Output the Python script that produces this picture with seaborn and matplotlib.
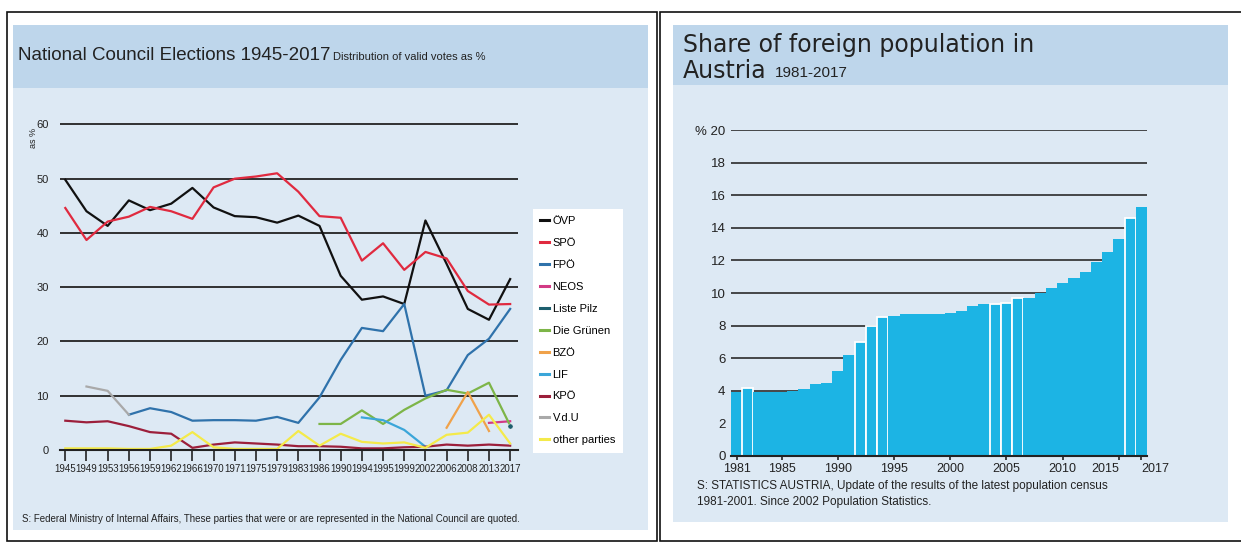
import numpy as np
import pandas as pd
import matplotlib
matplotlib.use('Agg')
import matplotlib.pyplot as plt
from matplotlib.patches import Rectangle
from matplotlib.lines import Line2D
import seaborn as sns

# %%
years = ['1945', '1949', '1953', '1956', '1959', '1962', '1966', '1970', '1971', '1975', '1979',
         '1983', '1986', '1990', '1994', '1995', '1999', '2002', '2006', '2008', '2013', '2017']
nan = np.nan
ovp = [49.8, 44.0, 41.3, 46.0, 44.2, 45.4, 48.3, 44.7, 43.1, 42.9, 41.9,
       43.2, 41.3, 32.1, 27.7, 28.3, 26.9, 42.3, 34.3, 26.0, 24.0, 31.5]
spo = [44.6, 38.7, 42.1, 43.0, 44.8, 44.0, 42.6, 48.4, 50.0, 50.4, 51.0,
       47.6, 43.1, 42.8, 34.9, 38.1, 33.2, 36.5, 35.3, 29.3, 26.8, 26.9]
fpo = [nan, nan, nan, 6.5, 7.7, 7.0, 5.4, 5.5, 5.5, 5.4, 6.1,
       5.0, 9.7, 16.6, 22.5, 21.9, 26.9, 10.0, 11.0, 17.5, 20.5, 26.0]
neos = [nan] * 20 + [5.0, 5.3]
pilz = [nan] * 21 + [4.4]
gruene = [nan] * 12 + [4.8, 4.8, 7.3, 4.8, 7.4, 9.5, 11.1, 10.4, 12.4, 4.5]
bzo = [nan] * 18 + [4.1, 10.7, 3.5, nan]
lif = [nan] * 14 + [6.0, 5.5, 3.7, 0.6, nan, nan, nan, nan]
kpo = [5.4, 5.1, 5.3, 4.4, 3.3, 3.0, 0.4, 1.0, 1.4, 1.2, 1.0,
       0.7, 0.7, 0.6, 0.3, 0.3, 0.5, 0.6, 1.0, 0.8, 1.0, 0.8]
vdu = [nan, 11.7, 10.9, 6.5] + [nan] * 18
other = [0.3, 0.3, 0.3, 0.2, 0.2, 0.8, 3.3, 0.5, 0.2, 0.2, 0.2,
         3.5, 0.8, 3.0, 1.5, 1.2, 1.4, 0.4, 2.8, 3.2, 6.5, 1.2]

parties = ['ÖVP', 'SPÖ', 'FPÖ', 'NEOS', 'Liste Pilz', 'Die Grünen', 'BZÖ', 'LIF', 'KPÖ', 'V.d.U', 'other parties']
series = [ovp, spo, fpo, neos, pilz, gruene, bzo, lif, kpo, vdu, other]
colors = ['#111111', '#e02a3f', '#2f72ab', '#d23a85', '#1d5f6e', '#7db548', '#f0a24a',
          '#3ba6d9', '#9c1f3b', '#a9a9a9', '#f4ea4a']
palette = dict(zip(parties, colors))

pop_years = list(range(1981, 2018))
pop_share = [3.9, 4.2, 3.9, 3.9, 3.9, 4.0, 4.1, 4.4, 4.5, 5.2, 6.2, 7.0, 8.0, 8.5, 8.6, 8.7,
             8.7, 8.7, 8.7, 8.8, 8.9, 9.2, 9.3, 9.3, 9.4, 9.7, 9.7, 10.0, 10.3, 10.6, 10.9,
             11.3, 11.9, 12.5, 13.3, 14.6, 15.3]
pop_ticks = ['1981', '1985', '1990', '1995', '2000', '2005', '2010', '2015', '2017']

# %%
rows = []
for p, vals in zip(parties, series):
    for i, v in enumerate(vals):
        if not np.isnan(v):
            rows.append({'party': p, 'pos': i, 'share': v})
df = pd.DataFrame(rows)
dfp = pd.DataFrame({'year': [str(y) for y in pop_years], 'share': pop_share})

sans = 'Liberation Sans'
W, H = 1241, 542
fig = plt.figure(figsize=(W / 100, H / 100), dpi=100)
fig.patch.set_facecolor('white')

def box(x0, y0, x1, y1, **kw):
    fig.patches.append(Rectangle((x0 / W, 1 - y1 / H), (x1 - x0) / W, (y1 - y0) / H,
                                 transform=fig.transFigure, zorder=-5, **kw))

def txt(x, y, s, **kw):
    fig.text(x / W, 1 - y / H, s, **kw)

bg = '#dde9f4'
band = '#bed6eb'
# left panel
box(7, 12, 657, 541, facecolor='white', edgecolor='#111111', linewidth=1.2)
box(13, 25, 648, 530, facecolor=bg, edgecolor='none')
box(13, 25, 648, 88, facecolor=band, edgecolor='none')
# right panel
box(660, 12, 1245, 541, facecolor='white', edgecolor='#111111', linewidth=1.2)
box(673, 25, 1228, 522, facecolor=bg, edgecolor='none')
box(673, 25, 1228, 85, facecolor=band, edgecolor='none')

# %%
ax = fig.add_axes([60 / W, 92 / H, 458 / W, 331 / H])
ax.set_zorder(2)
ax.set_facecolor('none')
sns.lineplot(data=df, x='pos', y='share', hue='party', palette=palette, hue_order=parties,
             linewidth=1.6, legend=False, ax=ax, sort=True)
sns.scatterplot(data=df[df.party == 'Liste Pilz'], x='pos', y='share', color=palette['Liste Pilz'],
                s=14, legend=False, ax=ax, zorder=5)
for y in range(10, 70, 10):
    ax.axhline(y, color='#222222', linewidth=1.3, zorder=0)
ax.set_xlim(-0.25, 21.37)
ax.set_ylim(0, 61)
ax.set_xticks(range(len(years)))
ax.set_xticklabels(years, family=sans, fontsize=7, color='#222222')
ax.set_yticks(range(0, 70, 10))
ax.set_yticklabels([str(v) for v in range(0, 70, 10)], family=sans, fontsize=8, color='#222222')
ax.tick_params(axis='x', length=8, width=1.2, color='#222222', pad=2, direction='out')
ax.tick_params(axis='y', length=0, pad=8)
ax.set_xlabel('')
ax.set_ylabel('')
for s in ['top', 'right', 'left']:
    ax.spines[s].set_visible(False)
ax.spines['bottom'].set_color('#222222')
ax.spines['bottom'].set_linewidth(1.5)
txt(33, 138, 'as %', family=sans, fontsize=6.5, rotation=90, color='#222222', ha='center', va='center')

handles = [Line2D([0], [0], color=palette[p], linewidth=2.2) for p in parties]
leg = fig.legend(handles, parties, loc='upper left', bbox_to_anchor=(527 / W, 1 - 203 / H),
                 frameon=True, fancybox=False, edgecolor='none', facecolor='white', framealpha=1,
                 handlelength=0.8, handletextpad=0.3, labelspacing=1.07, borderpad=0.7,
                 prop={'family': sans, 'size': 8})
leg.set_zorder(3)

txt(18, 55, 'National Council Elections 1945-2017', family=sans, fontsize=13.5,
    color='#222222', va='center')
txt(333, 57, 'Distribution of valid votes as %', family=sans, fontsize=8, color='#222222', va='center')
txt(22, 519, 'S: Federal Ministry of Internal Affairs, These parties that were or are represented in the National Council are quoted.',
    family=sans, fontsize=7, color='#222222', va='center')

# %%
ax2 = fig.add_axes([731 / W, 86 / H, 416 / W, 326 / H])
ax2.set_zorder(2)
ax2.set_facecolor('none')
for y in range(2, 22, 2):
    ax2.axhline(y, color='#2b2b2b', linewidth=1.2, zorder=0)
sns.barplot(data=dfp, x='year', y='share', color='#1cb4e4', saturation=1, width=1.0,
            linewidth=0, ax=ax2, zorder=2)
for i in [1, 11, 12, 13, 23, 24, 25, 35]:
    ax2.patches[i].set_edgecolor('white')
    ax2.patches[i].set_linewidth(1.3)
ax2.set_xlim(-0.5, 36.5)
ax2.set_ylim(0, 20)
ax2.set_xticks([pop_years.index(int(t)) for t in pop_ticks])
ax2.set_xticklabels(pop_ticks, family=sans, fontsize=9, color='#222222')
labs = ax2.get_xticklabels()
labs[-2].set_horizontalalignment('right')
labs[-1].set_horizontalalignment('left')
ax2.set_yticks(range(0, 22, 2))
ax2.set_yticklabels([str(v) for v in range(0, 20, 2)] + ['% 20'], family=sans,
                    fontsize=9.5, color='#222222')
ax2.tick_params(axis='x', length=6, width=1.2, color='#222222', direction='inout', pad=2)
ax2.tick_params(axis='y', length=0, pad=4)
ax2.set_xlabel('')
ax2.set_ylabel('')
for s in ['top', 'right', 'left']:
    ax2.spines[s].set_visible(False)
ax2.spines['bottom'].set_color('#222222')
ax2.spines['bottom'].set_linewidth(1.5)
ax2.spines['bottom'].set_zorder(5)

txt(683, 45, 'Share of foreign population in', family='DejaVu Sans', fontsize=17,
    color='#222222', va='center')
txt(683, 71, 'Austria', family='DejaVu Sans', fontsize=17, color='#222222', va='center')
txt(775, 73, '1981-2017', family=sans, fontsize=11, color='#222222', va='center')
txt(697, 486, 'S: STATISTICS AUSTRIA, Update of the results of the latest population census',
    family=sans, fontsize=8.5, color='#222222', va='center')
txt(697, 502, '1981-2001. Since 2002 Population Statistics.',
    family=sans, fontsize=8.5, color='#222222', va='center')

fig.savefig('out.png', dpi=100)
